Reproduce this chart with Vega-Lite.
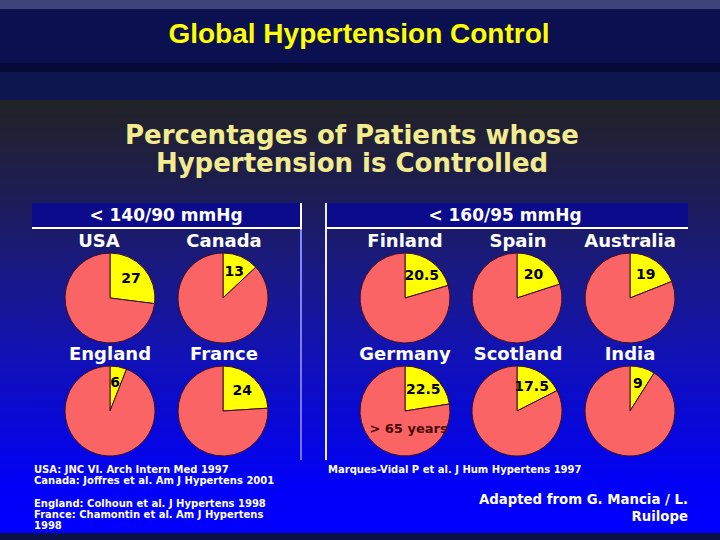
{
  "$schema": "https://vega.github.io/schema/vega-lite/v6.json",
  "padding": 0,
  "spacing": 0,
  "background": "#0a1050",
  "config": {"view": {"stroke": null}, "concat": {"spacing": 0}},
  "datasets": {
    "headings": [
      {"role": "slide", "text": "Global Hypertension Control"},
      {"role": "title", "text": "Percentages of Patients whose\nHypertension is Controlled"}
    ],
    "panels": [
      {"panel": "left", "criterion": "< 140/90 mmHg"},
      {"panel": "right", "criterion": "< 160/95 mmHg"}
    ],
    "pies": [
      {"panel": "left", "country": "USA", "status": "Controlled", "value": 27},
      {"panel": "left", "country": "USA", "status": "Uncontrolled", "value": 73},
      {"panel": "left", "country": "Canada", "status": "Controlled", "value": 13},
      {"panel": "left", "country": "Canada", "status": "Uncontrolled", "value": 87},
      {"panel": "left", "country": "England", "status": "Controlled", "value": 6},
      {"panel": "left", "country": "England", "status": "Uncontrolled", "value": 94},
      {"panel": "left", "country": "France", "status": "Controlled", "value": 24},
      {"panel": "left", "country": "France", "status": "Uncontrolled", "value": 76},
      {"panel": "right", "country": "Finland", "status": "Controlled", "value": 20.5},
      {"panel": "right", "country": "Finland", "status": "Uncontrolled", "value": 79.5},
      {"panel": "right", "country": "Spain", "status": "Controlled", "value": 20},
      {"panel": "right", "country": "Spain", "status": "Uncontrolled", "value": 80},
      {"panel": "right", "country": "Australia", "status": "Controlled", "value": 19},
      {"panel": "right", "country": "Australia", "status": "Uncontrolled", "value": 81},
      {"panel": "right", "country": "Germany", "status": "Controlled", "value": 22.5},
      {"panel": "right", "country": "Germany", "status": "Uncontrolled", "value": 77.5, "note": "> 65 years"},
      {"panel": "right", "country": "Scotland", "status": "Controlled", "value": 17.5},
      {"panel": "right", "country": "Scotland", "status": "Uncontrolled", "value": 82.5},
      {"panel": "right", "country": "India", "status": "Controlled", "value": 9},
      {"panel": "right", "country": "India", "status": "Uncontrolled", "value": 91}
    ],
    "notes": [
      {"block": "refs", "line": 0, "text": "USA: JNC VI. Arch Intern Med 1997"},
      {"block": "refs", "line": 1, "text": "Canada: Joffres et al. Am J Hypertens 2001"},
      {"block": "refs", "line": 3, "text": "England: Colhoun et al. J Hypertens 1998"},
      {"block": "refs", "line": 4, "text": "France: Chamontin et al. Am J Hypertens"},
      {"block": "refs", "line": 5, "text": "1998"},
      {"block": "source", "line": 0, "text": "Marques-Vidal P et al. J Hum Hypertens 1997"},
      {"block": "credit", "line": 0, "text": "Adapted from G. Mancia / L."},
      {"block": "credit", "line": 1, "text": "Ruilope"}
    ]
  },
  "vconcat": [
    {
      "width": 720, "height": 72,
      "view": {"stroke": null, "fill": {"gradient": "linear", "x1": 0, "y1": 0, "x2": 0, "y2": 1, "stops": [{"offset": 0, "color": "#3b4378"}, {"offset": 0.12, "color": "#3b4378"}, {"offset": 0.13, "color": "#0a1050"}, {"offset": 0.87, "color": "#0a1050"}, {"offset": 0.88, "color": "#050a36"}, {"offset": 1, "color": "#050a36"}]}},
      "data": {"name": "headings"},
      "transform": [{"filter": "datum.role === 'slide'"}],
      "mark": {"type": "text", "font": "Liberation Sans", "fontWeight": "bold", "fontSize": 28, "color": "#ffff00", "baseline": "middle", "dx": -1, "dy": -1},
      "encoding": {"text": {"field": "text", "type": "nominal"}}
    },
    {
      "width": 720, "height": 28,
      "view": {"stroke": null, "fill": "#0e1650"},
      "data": {"values": []},
      "mark": "point",
      "encoding": {}
    },
    {
      "width": 720, "height": 103,
      "view": {"stroke": null, "fill": {"gradient": "linear", "x1": 0, "y1": 0, "x2": 0, "y2": 1, "stops": [{"offset": 0, "color": "#222226"}, {"offset": 0.485, "color": "#1f1f3e"}, {"offset": 1, "color": "#1c1c5a"}]}},
      "data": {"name": "headings"},
      "transform": [{"filter": "datum.role === 'title'"}],
      "mark": {"type": "text", "lineBreak": "\n", "lineHeight": 28, "font": "DejaVu Sans", "fontWeight": "bold", "fontSize": 26, "color": "#f3ec8e", "baseline": "middle", "dx": -8, "dy": -15.8},
      "encoding": {"text": {"field": "text", "type": "nominal"}}
    },
    {
      "hconcat": [
        {
          "width": 32, "height": 257,
          "view": {"stroke": null, "fill": {"gradient": "linear", "x1": 0, "y1": 0, "x2": 0, "y2": 1, "stops": [{"offset": 0, "color": "#1c1c5a"}, {"offset": 0.183, "color": "#1a1a76"}, {"offset": 0.377, "color": "#171795"}, {"offset": 0.572, "color": "#1212b2"}, {"offset": 0.767, "color": "#0b0bcc"}, {"offset": 0.961, "color": "#0505e6"}, {"offset": 1, "color": "#0404e9"}]}},
          "data": {"values": []}, "mark": "point", "encoding": {}
        },
        {
          "vconcat": [
            {
              "width": 268, "height": 26,
              "view": {"stroke": null, "fill": {"gradient": "linear", "x1": 0, "y1": 0, "x2": 0, "y2": 1, "stops": [{"offset": 0, "color": "#0b0b8c"}, {"offset": 0.93, "color": "#0b0b8c"}, {"offset": 0.94, "color": "#ffffff"}, {"offset": 1, "color": "#ffffff"}]}},
              "data": {"name": "panels"},
              "transform": [{"filter": "datum.panel === 'left'"}],
              "mark": {"type": "text", "font": "DejaVu Sans", "fontWeight": "bold", "fontSize": 17, "color": "#ffffff", "baseline": "middle", "dy": 0},
              "encoding": {"text": {"field": "criterion", "type": "nominal"}}
            },
            {
              "hconcat": [
                {
                  "width": 134, "height": 116,
                  "view": {"stroke": null, "fill": {"gradient": "linear", "x1": 0, "y1": 0, "x2": 0, "y2": 1, "stops": [{"offset": 0, "color": "#1b1b69"}, {"offset": 0.181, "color": "#1a1a76"}, {"offset": 0.612, "color": "#171795"}, {"offset": 1, "color": "#1313af"}]}},
                  "data": {"name": "pies"},
                  "transform": [{"filter": "datum.country === 'USA'"}],
                  "layer": [
                    {"mark": {"type": "arc", "outerRadius": 45, "stroke": "#3c0c24", "strokeWidth": 1, "xOffset": 11, "yOffset": 11},
                     "encoding": {"theta": {"field": "value", "type": "quantitative", "stack": true, "scale": {"domain": [0, 100]}}, "order": {"field": "status", "type": "ordinal", "sort": "ascending"}, "color": {"field": "status", "type": "nominal", "scale": {"domain": ["Controlled", "Uncontrolled"], "range": ["#ffff00", "#fb6464"]}, "legend": null}}},
                    {"transform": [{"filter": "datum.status === 'Controlled'"}],
                     "mark": {"type": "text", "radius": 28, "font": "DejaVu Sans", "fontWeight": "bold", "fontSize": 14, "color": "#000000", "baseline": "middle", "xOffset": 11, "yOffset": 11},
                     "encoding": {"theta": {"field": "value", "type": "quantitative", "stack": true, "scale": {"domain": [0, 100]}}, "text": {"field": "value", "type": "quantitative"}}},
                    {"transform": [{"filter": "datum.status === 'Controlled'"}],
                     "mark": {"type": "text", "font": "DejaVu Sans", "fontWeight": "bold", "fontSize": 18, "color": "#ffffff", "baseline": "middle", "dx": 0, "dy": -45.3},
                     "encoding": {"text": {"field": "country", "type": "nominal"}}}
                  ]
                },
                {
                  "width": 134, "height": 116,
                  "view": {"stroke": null, "fill": {"gradient": "linear", "x1": 0, "y1": 0, "x2": 0, "y2": 1, "stops": [{"offset": 0, "color": "#1b1b69"}, {"offset": 0.181, "color": "#1a1a76"}, {"offset": 0.612, "color": "#171795"}, {"offset": 1, "color": "#1313af"}]}},
                  "data": {"name": "pies"},
                  "transform": [{"filter": "datum.country === 'Canada'"}],
                  "layer": [
                    {"mark": {"type": "arc", "outerRadius": 45, "stroke": "#3c0c24", "strokeWidth": 1, "xOffset": -10, "yOffset": 11},
                     "encoding": {"theta": {"field": "value", "type": "quantitative", "stack": true, "scale": {"domain": [0, 100]}}, "order": {"field": "status", "type": "ordinal", "sort": "ascending"}, "color": {"field": "status", "type": "nominal", "scale": {"domain": ["Controlled", "Uncontrolled"], "range": ["#ffff00", "#fb6464"]}, "legend": null}}},
                    {"transform": [{"filter": "datum.status === 'Controlled'"}],
                     "mark": {"type": "text", "radius": 28, "font": "DejaVu Sans", "fontWeight": "bold", "fontSize": 14, "color": "#000000", "baseline": "middle", "xOffset": -10, "yOffset": 11},
                     "encoding": {"theta": {"field": "value", "type": "quantitative", "stack": true, "scale": {"domain": [0, 100]}}, "text": {"field": "value", "type": "quantitative"}}},
                    {"transform": [{"filter": "datum.status === 'Controlled'"}],
                     "mark": {"type": "text", "font": "DejaVu Sans", "fontWeight": "bold", "fontSize": 18, "color": "#ffffff", "baseline": "middle", "dx": -9, "dy": -45.3},
                     "encoding": {"text": {"field": "country", "type": "nominal"}}}
                  ]
                }
              ]
            },
            {
              "hconcat": [
                {
                  "width": 134, "height": 115,
                  "view": {"stroke": null, "fill": {"gradient": "linear", "x1": 0, "y1": 0, "x2": 0, "y2": 1, "stops": [{"offset": 0, "color": "#1313af"}, {"offset": 0.043, "color": "#1212b2"}, {"offset": 0.478, "color": "#0b0bcc"}, {"offset": 0.913, "color": "#0505e6"}, {"offset": 1, "color": "#0404e9"}]}},
                  "data": {"name": "pies"},
                  "transform": [{"filter": "datum.country === 'England'"}],
                  "layer": [
                    {"mark": {"type": "arc", "outerRadius": 45, "stroke": "#3c0c24", "strokeWidth": 1, "xOffset": 11, "yOffset": 8.5},
                     "encoding": {"theta": {"field": "value", "type": "quantitative", "stack": true, "scale": {"domain": [0, 100]}}, "order": {"field": "status", "type": "ordinal", "sort": "ascending"}, "color": {"field": "status", "type": "nominal", "scale": {"domain": ["Controlled", "Uncontrolled"], "range": ["#ffff00", "#fb6464"]}, "legend": null}}},
                    {"transform": [{"filter": "datum.status === 'Controlled'"}],
                     "mark": {"type": "text", "radius": 28, "font": "DejaVu Sans", "fontWeight": "bold", "fontSize": 14, "color": "#000000", "baseline": "middle", "xOffset": 11, "yOffset": 8.5},
                     "encoding": {"theta": {"field": "value", "type": "quantitative", "stack": true, "scale": {"domain": [0, 100]}}, "text": {"field": "value", "type": "quantitative"}}},
                    {"transform": [{"filter": "datum.status === 'Controlled'"}],
                     "mark": {"type": "text", "font": "DejaVu Sans", "fontWeight": "bold", "fontSize": 18, "color": "#ffffff", "baseline": "middle", "dx": 11, "dy": -47.3},
                     "encoding": {"text": {"field": "country", "type": "nominal"}}}
                  ]
                },
                {
                  "width": 134, "height": 115,
                  "view": {"stroke": null, "fill": {"gradient": "linear", "x1": 0, "y1": 0, "x2": 0, "y2": 1, "stops": [{"offset": 0, "color": "#1313af"}, {"offset": 0.043, "color": "#1212b2"}, {"offset": 0.478, "color": "#0b0bcc"}, {"offset": 0.913, "color": "#0505e6"}, {"offset": 1, "color": "#0404e9"}]}},
                  "data": {"name": "pies"},
                  "transform": [{"filter": "datum.country === 'France'"}],
                  "layer": [
                    {"mark": {"type": "arc", "outerRadius": 45, "stroke": "#3c0c24", "strokeWidth": 1, "xOffset": -10, "yOffset": 8.5},
                     "encoding": {"theta": {"field": "value", "type": "quantitative", "stack": true, "scale": {"domain": [0, 100]}}, "order": {"field": "status", "type": "ordinal", "sort": "ascending"}, "color": {"field": "status", "type": "nominal", "scale": {"domain": ["Controlled", "Uncontrolled"], "range": ["#ffff00", "#fb6464"]}, "legend": null}}},
                    {"transform": [{"filter": "datum.status === 'Controlled'"}],
                     "mark": {"type": "text", "radius": 28, "font": "DejaVu Sans", "fontWeight": "bold", "fontSize": 14, "color": "#000000", "baseline": "middle", "xOffset": -10, "yOffset": 8.5},
                     "encoding": {"theta": {"field": "value", "type": "quantitative", "stack": true, "scale": {"domain": [0, 100]}}, "text": {"field": "value", "type": "quantitative"}}},
                    {"transform": [{"filter": "datum.status === 'Controlled'"}],
                     "mark": {"type": "text", "font": "DejaVu Sans", "fontWeight": "bold", "fontSize": 18, "color": "#ffffff", "baseline": "middle", "dx": -9, "dy": -47.3},
                     "encoding": {"text": {"field": "country", "type": "nominal"}}}
                  ]
                }
              ]
            }
          ]
        },
        {
          "width": 2, "height": 257,
          "view": {"stroke": null, "fill": {"gradient": "linear", "x1": 0, "y1": 0, "x2": 0, "y2": 1, "stops": [{"offset": 0, "color": "#ffffff"}, {"offset": 0.1, "color": "#ffffff"}, {"offset": 0.105, "color": "#8888ff"}, {"offset": 1, "color": "#7272f2"}]}},
          "data": {"values": []}, "mark": "point", "encoding": {}
        },
        {
          "width": 23, "height": 257,
          "view": {"stroke": null, "fill": {"gradient": "linear", "x1": 0, "y1": 0, "x2": 0, "y2": 1, "stops": [{"offset": 0, "color": "#1c1c5a"}, {"offset": 0.183, "color": "#1a1a76"}, {"offset": 0.377, "color": "#171795"}, {"offset": 0.572, "color": "#1212b2"}, {"offset": 0.767, "color": "#0b0bcc"}, {"offset": 0.961, "color": "#0505e6"}, {"offset": 1, "color": "#0404e9"}]}},
          "data": {"values": []}, "mark": "point", "encoding": {}
        },
        {
          "width": 2, "height": 257,
          "view": {"stroke": null, "fill": "#eeeeff"},
          "data": {"values": []}, "mark": "point", "encoding": {}
        },
        {
          "vconcat": [
            {
              "width": 361, "height": 26,
              "view": {"stroke": null, "fill": {"gradient": "linear", "x1": 0, "y1": 0, "x2": 0, "y2": 1, "stops": [{"offset": 0, "color": "#0b0b8c"}, {"offset": 0.93, "color": "#0b0b8c"}, {"offset": 0.94, "color": "#ffffff"}, {"offset": 1, "color": "#ffffff"}]}},
              "data": {"name": "panels"},
              "transform": [{"filter": "datum.panel === 'right'"}],
              "mark": {"type": "text", "font": "DejaVu Sans", "fontWeight": "bold", "fontSize": 17, "color": "#ffffff", "baseline": "middle", "dx": -2.5, "dy": 0},
              "encoding": {"text": {"field": "criterion", "type": "nominal"}}
            },
            {
              "hconcat": [
                {
                  "width": 133, "height": 116,
                  "view": {"stroke": null, "fill": {"gradient": "linear", "x1": 0, "y1": 0, "x2": 0, "y2": 1, "stops": [{"offset": 0, "color": "#1b1b69"}, {"offset": 0.181, "color": "#1a1a76"}, {"offset": 0.612, "color": "#171795"}, {"offset": 1, "color": "#1313af"}]}},
                  "data": {"name": "pies"},
                  "transform": [{"filter": "datum.country === 'Finland'"}],
                  "layer": [
                    {"mark": {"type": "arc", "outerRadius": 45, "stroke": "#3c0c24", "strokeWidth": 1, "xOffset": 11.5, "yOffset": 11},
                     "encoding": {"theta": {"field": "value", "type": "quantitative", "stack": true, "scale": {"domain": [0, 100]}}, "order": {"field": "status", "type": "ordinal", "sort": "ascending"}, "color": {"field": "status", "type": "nominal", "scale": {"domain": ["Controlled", "Uncontrolled"], "range": ["#ffff00", "#fb6464"]}, "legend": null}}},
                    {"transform": [{"filter": "datum.status === 'Controlled'"}],
                     "mark": {"type": "text", "radius": 28, "font": "DejaVu Sans", "fontWeight": "bold", "fontSize": 14, "color": "#000000", "baseline": "middle", "xOffset": 11.5, "yOffset": 11},
                     "encoding": {"theta": {"field": "value", "type": "quantitative", "stack": true, "scale": {"domain": [0, 100]}}, "text": {"field": "value", "type": "quantitative"}}},
                    {"transform": [{"filter": "datum.status === 'Controlled'"}],
                     "mark": {"type": "text", "font": "DejaVu Sans", "fontWeight": "bold", "fontSize": 18, "color": "#ffffff", "baseline": "middle", "dx": 11.5, "dy": -45.3},
                     "encoding": {"text": {"field": "country", "type": "nominal"}}}
                  ]
                },
                {
                  "width": 113, "height": 116,
                  "view": {"stroke": null, "fill": {"gradient": "linear", "x1": 0, "y1": 0, "x2": 0, "y2": 1, "stops": [{"offset": 0, "color": "#1b1b69"}, {"offset": 0.181, "color": "#1a1a76"}, {"offset": 0.612, "color": "#171795"}, {"offset": 1, "color": "#1313af"}]}},
                  "data": {"name": "pies"},
                  "transform": [{"filter": "datum.country === 'Spain'"}],
                  "layer": [
                    {"mark": {"type": "arc", "outerRadius": 45, "stroke": "#3c0c24", "strokeWidth": 1, "xOffset": 0.5, "yOffset": 11},
                     "encoding": {"theta": {"field": "value", "type": "quantitative", "stack": true, "scale": {"domain": [0, 100]}}, "order": {"field": "status", "type": "ordinal", "sort": "ascending"}, "color": {"field": "status", "type": "nominal", "scale": {"domain": ["Controlled", "Uncontrolled"], "range": ["#ffff00", "#fb6464"]}, "legend": null}}},
                    {"transform": [{"filter": "datum.status === 'Controlled'"}],
                     "mark": {"type": "text", "radius": 28, "font": "DejaVu Sans", "fontWeight": "bold", "fontSize": 14, "color": "#000000", "baseline": "middle", "xOffset": 0.5, "yOffset": 11},
                     "encoding": {"theta": {"field": "value", "type": "quantitative", "stack": true, "scale": {"domain": [0, 100]}}, "text": {"field": "value", "type": "quantitative"}}},
                    {"transform": [{"filter": "datum.status === 'Controlled'"}],
                     "mark": {"type": "text", "font": "DejaVu Sans", "fontWeight": "bold", "fontSize": 18, "color": "#ffffff", "baseline": "middle", "dx": 1.5, "dy": -45.3},
                     "encoding": {"text": {"field": "country", "type": "nominal"}}}
                  ]
                },
                {
                  "width": 115, "height": 116,
                  "view": {"stroke": null, "fill": {"gradient": "linear", "x1": 0, "y1": 0, "x2": 0, "y2": 1, "stops": [{"offset": 0, "color": "#1b1b69"}, {"offset": 0.181, "color": "#1a1a76"}, {"offset": 0.612, "color": "#171795"}, {"offset": 1, "color": "#1313af"}]}},
                  "data": {"name": "pies"},
                  "transform": [{"filter": "datum.country === 'Australia'"}],
                  "layer": [
                    {"mark": {"type": "arc", "outerRadius": 45, "stroke": "#3c0c24", "strokeWidth": 1, "xOffset": -0.5, "yOffset": 11},
                     "encoding": {"theta": {"field": "value", "type": "quantitative", "stack": true, "scale": {"domain": [0, 100]}}, "order": {"field": "status", "type": "ordinal", "sort": "ascending"}, "color": {"field": "status", "type": "nominal", "scale": {"domain": ["Controlled", "Uncontrolled"], "range": ["#ffff00", "#fb6464"]}, "legend": null}}},
                    {"transform": [{"filter": "datum.status === 'Controlled'"}],
                     "mark": {"type": "text", "radius": 28, "font": "DejaVu Sans", "fontWeight": "bold", "fontSize": 14, "color": "#000000", "baseline": "middle", "xOffset": -0.5, "yOffset": 11},
                     "encoding": {"theta": {"field": "value", "type": "quantitative", "stack": true, "scale": {"domain": [0, 100]}}, "text": {"field": "value", "type": "quantitative"}}},
                    {"transform": [{"filter": "datum.status === 'Controlled'"}],
                     "mark": {"type": "text", "font": "DejaVu Sans", "fontWeight": "bold", "fontSize": 18, "color": "#ffffff", "baseline": "middle", "dx": -0.5, "dy": -45.3},
                     "encoding": {"text": {"field": "country", "type": "nominal"}}}
                  ]
                }
              ]
            },
            {
              "hconcat": [
                {
                  "width": 133, "height": 115,
                  "view": {"stroke": null, "fill": {"gradient": "linear", "x1": 0, "y1": 0, "x2": 0, "y2": 1, "stops": [{"offset": 0, "color": "#1313af"}, {"offset": 0.043, "color": "#1212b2"}, {"offset": 0.478, "color": "#0b0bcc"}, {"offset": 0.913, "color": "#0505e6"}, {"offset": 1, "color": "#0404e9"}]}},
                  "data": {"name": "pies"},
                  "transform": [{"filter": "datum.country === 'Germany'"}],
                  "layer": [
                    {"mark": {"type": "arc", "outerRadius": 45, "stroke": "#3c0c24", "strokeWidth": 1, "xOffset": 11.5, "yOffset": 8.5},
                     "encoding": {"theta": {"field": "value", "type": "quantitative", "stack": true, "scale": {"domain": [0, 100]}}, "order": {"field": "status", "type": "ordinal", "sort": "ascending"}, "color": {"field": "status", "type": "nominal", "scale": {"domain": ["Controlled", "Uncontrolled"], "range": ["#ffff00", "#fb6464"]}, "legend": null}}},
                    {"transform": [{"filter": "datum.status === 'Controlled'"}],
                     "mark": {"type": "text", "radius": 28, "font": "DejaVu Sans", "fontWeight": "bold", "fontSize": 14, "color": "#000000", "baseline": "middle", "xOffset": 11.5, "yOffset": 8.5},
                     "encoding": {"theta": {"field": "value", "type": "quantitative", "stack": true, "scale": {"domain": [0, 100]}}, "text": {"field": "value", "type": "quantitative"}}},
                    {"transform": [{"filter": "datum.status === 'Controlled'"}],
                     "mark": {"type": "text", "font": "DejaVu Sans", "fontWeight": "bold", "fontSize": 18, "color": "#ffffff", "baseline": "middle", "dx": 11.5, "dy": -47.3},
                     "encoding": {"text": {"field": "country", "type": "nominal"}}},
                    {"transform": [{"filter": "isValid(datum.note)"}],
                     "mark": {"type": "text", "font": "DejaVu Sans", "fontWeight": "bold", "fontSize": 13, "color": "#4a0808", "baseline": "middle", "xOffset": 15, "yOffset": 26},
                     "encoding": {"text": {"field": "note", "type": "nominal"}}}
                  ]
                },
                {
                  "width": 113, "height": 115,
                  "view": {"stroke": null, "fill": {"gradient": "linear", "x1": 0, "y1": 0, "x2": 0, "y2": 1, "stops": [{"offset": 0, "color": "#1313af"}, {"offset": 0.043, "color": "#1212b2"}, {"offset": 0.478, "color": "#0b0bcc"}, {"offset": 0.913, "color": "#0505e6"}, {"offset": 1, "color": "#0404e9"}]}},
                  "data": {"name": "pies"},
                  "transform": [{"filter": "datum.country === 'Scotland'"}],
                  "layer": [
                    {"mark": {"type": "arc", "outerRadius": 45, "stroke": "#3c0c24", "strokeWidth": 1, "xOffset": 0.5, "yOffset": 8.5},
                     "encoding": {"theta": {"field": "value", "type": "quantitative", "stack": true, "scale": {"domain": [0, 100]}}, "order": {"field": "status", "type": "ordinal", "sort": "ascending"}, "color": {"field": "status", "type": "nominal", "scale": {"domain": ["Controlled", "Uncontrolled"], "range": ["#ffff00", "#fb6464"]}, "legend": null}}},
                    {"transform": [{"filter": "datum.status === 'Controlled'"}],
                     "mark": {"type": "text", "radius": 28, "font": "DejaVu Sans", "fontWeight": "bold", "fontSize": 14, "color": "#000000", "baseline": "middle", "xOffset": 0.5, "yOffset": 8.5},
                     "encoding": {"theta": {"field": "value", "type": "quantitative", "stack": true, "scale": {"domain": [0, 100]}}, "text": {"field": "value", "type": "quantitative"}}},
                    {"transform": [{"filter": "datum.status === 'Controlled'"}],
                     "mark": {"type": "text", "font": "DejaVu Sans", "fontWeight": "bold", "fontSize": 18, "color": "#ffffff", "baseline": "middle", "dx": 1.5, "dy": -47.3},
                     "encoding": {"text": {"field": "country", "type": "nominal"}}}
                  ]
                },
                {
                  "width": 115, "height": 115,
                  "view": {"stroke": null, "fill": {"gradient": "linear", "x1": 0, "y1": 0, "x2": 0, "y2": 1, "stops": [{"offset": 0, "color": "#1313af"}, {"offset": 0.043, "color": "#1212b2"}, {"offset": 0.478, "color": "#0b0bcc"}, {"offset": 0.913, "color": "#0505e6"}, {"offset": 1, "color": "#0404e9"}]}},
                  "data": {"name": "pies"},
                  "transform": [{"filter": "datum.country === 'India'"}],
                  "layer": [
                    {"mark": {"type": "arc", "outerRadius": 45, "stroke": "#3c0c24", "strokeWidth": 1, "xOffset": -0.5, "yOffset": 8.5},
                     "encoding": {"theta": {"field": "value", "type": "quantitative", "stack": true, "scale": {"domain": [0, 100]}}, "order": {"field": "status", "type": "ordinal", "sort": "ascending"}, "color": {"field": "status", "type": "nominal", "scale": {"domain": ["Controlled", "Uncontrolled"], "range": ["#ffff00", "#fb6464"]}, "legend": null}}},
                    {"transform": [{"filter": "datum.status === 'Controlled'"}],
                     "mark": {"type": "text", "radius": 28, "font": "DejaVu Sans", "fontWeight": "bold", "fontSize": 14, "color": "#000000", "baseline": "middle", "xOffset": -0.5, "yOffset": 8.5},
                     "encoding": {"theta": {"field": "value", "type": "quantitative", "stack": true, "scale": {"domain": [0, 100]}}, "text": {"field": "value", "type": "quantitative"}}},
                    {"transform": [{"filter": "datum.status === 'Controlled'"}],
                     "mark": {"type": "text", "font": "DejaVu Sans", "fontWeight": "bold", "fontSize": 18, "color": "#ffffff", "baseline": "middle", "dx": -0.5, "dy": -47.3},
                     "encoding": {"text": {"field": "country", "type": "nominal"}}}
                  ]
                }
              ]
            }
          ]
        },
        {
          "width": 32, "height": 257,
          "view": {"stroke": null, "fill": {"gradient": "linear", "x1": 0, "y1": 0, "x2": 0, "y2": 1, "stops": [{"offset": 0, "color": "#1c1c5a"}, {"offset": 0.183, "color": "#1a1a76"}, {"offset": 0.377, "color": "#171795"}, {"offset": 0.572, "color": "#1212b2"}, {"offset": 0.767, "color": "#0b0bcc"}, {"offset": 0.961, "color": "#0505e6"}, {"offset": 1, "color": "#0404e9"}]}},
          "data": {"values": []}, "mark": "point", "encoding": {}
        }
      ]
    },
    {
      "width": 720, "height": 73,
      "view": {"stroke": null, "fill": {"gradient": "linear", "x1": 0, "y1": 0, "x2": 0, "y2": 1, "stops": [{"offset": 0, "color": "#0404e9"}, {"offset": 0.274, "color": "#0101f6"}, {"offset": 1, "color": "#0000ff"}]}},
      "data": {"name": "notes"},
      "layer": [
        {"transform": [{"filter": "datum.block !== 'credit'"}],
         "mark": {"type": "text", "align": "left", "baseline": "middle", "font": "DejaVu Sans", "fontWeight": "bold", "fontSize": 10, "color": "#ffffff"},
         "encoding": {
           "x": {"field": "block", "type": "nominal", "scale": {"type": "point", "domain": ["refs", "source"], "range": [34, 328], "padding": 0}, "axis": null},
           "y": {"field": "line", "type": "quantitative", "scale": {"domain": [0, 5], "range": [10, 66], "nice": false}, "axis": null},
           "text": {"field": "text", "type": "nominal"}}},
        {"transform": [{"filter": "datum.block === 'credit'"}],
         "mark": {"type": "text", "align": "right", "baseline": "middle", "font": "DejaVu Sans", "fontWeight": "bold", "fontSize": 13.3, "color": "#ffffff"},
         "encoding": {
           "x": {"field": "block", "type": "nominal", "scale": {"type": "point", "domain": ["credit"], "range": [688, 688]}, "axis": null},
           "y": {"field": "line", "type": "quantitative", "scale": {"domain": [0, 1], "range": [40, 57], "nice": false}, "axis": null},
           "text": {"field": "text", "type": "nominal"}}}
      ],
      "resolve": {"scale": {"x": "independent", "y": "independent"}}
    },
    {
      "width": 720, "height": 7,
      "view": {"stroke": null, "fill": "#0a1048"},
      "data": {"values": []},
      "mark": "point",
      "encoding": {}
    }
  ]
}
